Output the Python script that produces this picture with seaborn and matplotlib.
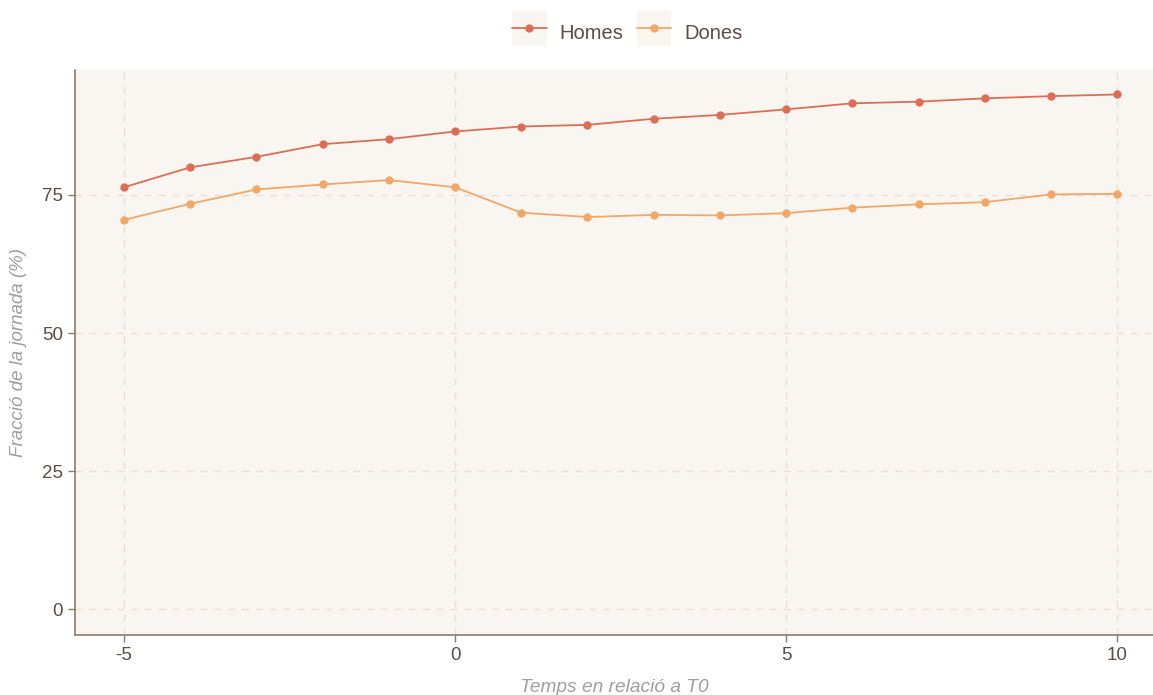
import matplotlib
matplotlib.use("Agg")
import matplotlib.pyplot as plt
from matplotlib.patches import Rectangle
from matplotlib.legend_handler import HandlerTuple, HandlerPatch, HandlerLine2D
import pandas as pd
import seaborn as sns

temps = list(range(-5, 11))
homes = [76.4, 80.0, 81.9, 84.2, 85.1, 86.5, 87.4, 87.7, 88.8, 89.5, 90.5,
         91.6, 91.9, 92.5, 92.9, 93.2]
dones = [70.5, 73.4, 76.0, 76.9, 77.7, 76.4, 71.8, 71.0, 71.4, 71.3, 71.7,
         72.7, 73.3, 73.7, 75.1, 75.2]
grups = ["Homes", "Dones"]
colors = {"Homes": "#DD6E55", "Dones": "#F2A766"}

df = pd.DataFrame({
    "temps": temps * 2,
    "valor": homes + dones,
    "grup": ["Homes"] * len(temps) + ["Dones"] * len(temps),
})

sns.set_style("white")
plt.rcParams["font.family"] = ["Liberation Sans", "DejaVu Sans"]
plt.rcParams["axes.unicode_minus"] = False

panel = "#F9F6F1"
fig = plt.figure(figsize=(11.53, 6.95), dpi=100)
ax = fig.add_axes([0.065, 0.0863, 0.935, 0.8127])
ax.set_facecolor(panel)

sns.lineplot(data=df, x="temps", y="valor", hue="grup", hue_order=grups,
             palette=colors, marker="o", markersize=6, markeredgewidth=0,
             linewidth=1.3, ax=ax, legend=False)

ax.set_xlim(-5.74, 10.54)
ax.set_ylim(-4.7, 97.6)
ax.set_xticks([-5, 0, 5, 10])
ax.set_yticks([0, 25, 50, 75])
ax.grid(True, linestyle=(0, (5, 5)), color="#E6E0D2", linewidth=1)
ax.set_axisbelow(True)

for s in ["top", "right"]:
    ax.spines[s].set_visible(False)
for s in ["left", "bottom"]:
    ax.spines[s].set_color("#8C7B6A")
    ax.spines[s].set_linewidth(1.2)

ax.tick_params(axis="both", which="both", length=5, width=1, color="#8C7B6A",
               labelsize=13.5, labelcolor="#5A4E46", left=True, bottom=True)

ax.set_xlabel("Temps en relació a T0", fontsize=13.8, style="italic",
              color="#9E9E9E", labelpad=11)
ax.set_ylabel("Fracció de la jornada (%)", fontsize=13.5, style="italic",
              color="#9E9E9E", labelpad=11)


# square key box centred on the legend line (ggplot-like)
def key_box(legend, orig_handle, xdescent, ydescent, width, height, fontsize):
    yc = (height - ydescent) / 2
    return Rectangle((-xdescent, yc - width / 2), width, width)


handles = []
for g in grups:
    box = Rectangle((0, 0), 1, 1, facecolor=panel, edgecolor="none")
    line = plt.Line2D([], [], color=colors[g], marker="o", markersize=6,
                      markeredgewidth=0, linewidth=1.3)
    handles.append((box, line))
leg = fig.legend(handles, grups, loc="center", bbox_to_anchor=(0.544, 0.954),
                 ncol=2, frameon=False, fontsize=14.5, handlelength=1.7,
                 handleheight=1.7, handletextpad=0.65, columnspacing=0.65,
                 handler_map={tuple: HandlerTuple(ndivide=1, pad=0),
                              Rectangle: HandlerPatch(patch_func=key_box),
                              plt.Line2D: HandlerLine2D()})
for t in leg.get_texts():
    t.set_color("#5A4E46")

fig.savefig("out.png", dpi=100, facecolor="white")
